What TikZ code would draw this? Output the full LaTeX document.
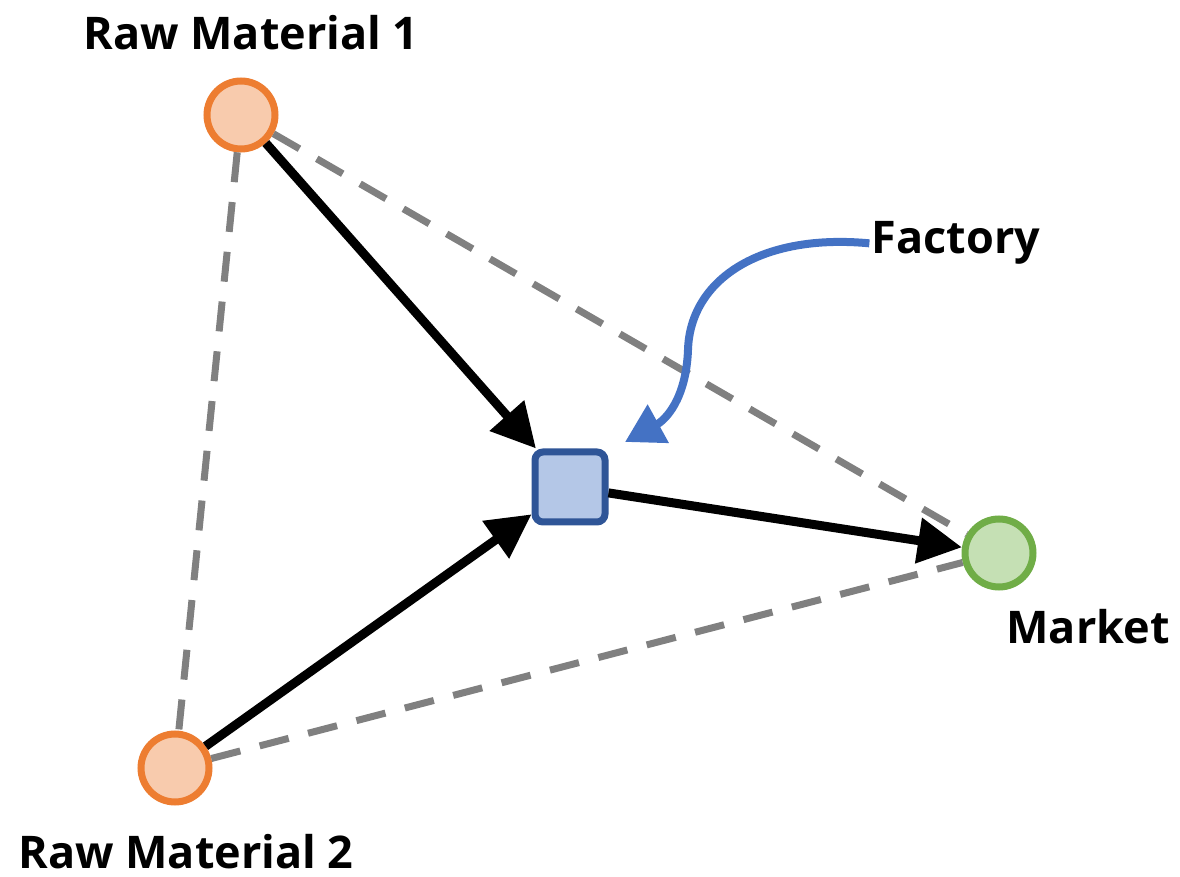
\documentclass[tikz,border=0pt]{standalone}
\usepackage{fontspec}
\setmainfont{Open Sans}
\usetikzlibrary{arrows.meta}
\definecolor{rawline}{HTML}{ED7D31}
\definecolor{rawfill}{HTML}{F8CBAD}
\definecolor{mktline}{HTML}{70AD47}
\definecolor{mktfill}{HTML}{C5E0B4}
\definecolor{facline}{HTML}{2F5597}
\definecolor{facfill}{HTML}{B4C7E7}
\definecolor{pointer}{HTML}{4472C4}
\begin{document}
\begin{tikzpicture}[x=0.5pt,y=-0.5pt,
	site/.style={circle, line width=3.5pt, minimum size=34pt, inner sep=0pt},
	label/.style={anchor=base, inner sep=1pt, font=\bfseries\fontsize{22.5}{26}\selectfont},
	route/.style={line width=3.5pt, dash pattern=on 15pt off 10pt, draw=black!50},
	flow/.style={line width=4.5pt, -{Triangle[length=22pt,width=22pt]}}]
	\useasboundingbox (0,0) rectangle (1180,877);
	\node (R1) at (241, 115)	[site, draw=rawline, fill=rawfill]	{};
	\node (R2) at (175, 768)	[site, draw=rawline, fill=rawfill]	{};
	\node (M)  at (999, 553)	[site, draw=mktline, fill=mktfill]	{};
	\node (F)  at (570, 487)	[rectangle, rounded corners=4pt, line width=3.5pt, minimum size=35pt, draw=facline, fill=facfill]	{};
	\node (R1L) at (251, 50)	[label]	{Raw Material 1};
	\node (R2L) at (186, 868)	[label]	{Raw Material 2};
	\node (ML)  at (1088, 644)	[label]	{Market};
	\node (FL)  at (956, 254)	[label]	{Factory};
	\draw[route] (R1) -- (R2);
	\draw[route] (R1) -- (M);
	\draw[route] (R2) -- (M);
	\draw[flow] (R1) -- (F);
	\draw[flow] (R2) -- (F);
	\draw[flow] (F) -- (M);
	\draw[pointer, line width=4pt, -{Triangle[length=19pt,width=21pt]}] (FL.west) .. controls (760,233) and (690,280) .. (688,350) .. controls (686,400) and (665,420) .. (625,442);
\end{tikzpicture}
\end{document}
